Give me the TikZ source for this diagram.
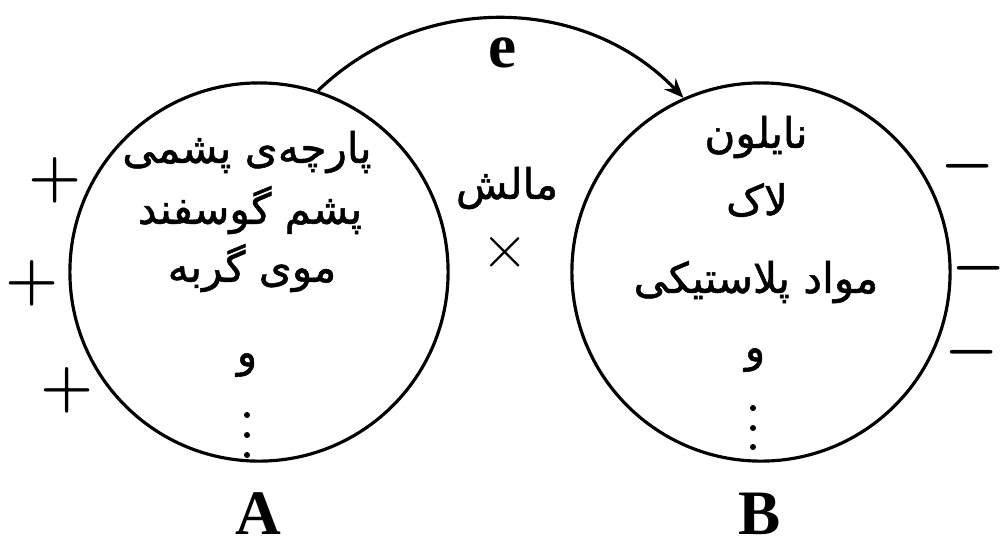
\documentclass[tikz,border=0pt]{standalone}
\usepackage{fontspec}
\setmainfont{Liberation Serif}
\newfontfamily\farsi[Script=Arabic,FakeBold=1.2]{DejaVu Sans}
\usetikzlibrary{arrows.meta}
\TeXXeTstate=1

\begin{document}
\begin{tikzpicture}[x=0.01cm,y=-0.01cm,>={Stealth[length=5.5pt,width=4.5pt]}]
  \tikzstyle{ball}=[draw,circle,line width=0.9pt,minimum size=3.78cm,inner sep=0pt]
  \tikzstyle{fa}=[font=\farsi\fontsize{12}{14}\selectfont,inner sep=0pt]
  \tikzstyle{tag}=[font=\bfseries\fontsize{18}{22}\selectfont,inner sep=0pt]
  \tikzstyle{charge}=[font=\boldmath\fontsize{16}{18}\selectfont,inner sep=0pt]
  \useasboundingbox (0,0) rectangle (1002,544);
  % the two rubbed bodies
  \node[ball] (A) at (259,272) {};
  \node[ball] (B) at (761,272) {};
  \node[tag] (la) at (258,514) {A};
  \node[tag] (lb) at (760,514) {B};
  % materials of A
  \node[fa] (a1) at (247,152) {\beginR پارچه‌ی پشمی\endR};
  \node[fa] (a2) at (250,210) {\beginR پشم گوسفند\endR};
  \node[fa] (a3) at (252,268) {\beginR موی گربه\endR};
  \node[fa] (a4) at (247,365) {\beginR و\endR};
  % materials of B
  \node[fa] (b1) at (756,137) {\beginR نایلون\endR};
  \node[fa] (b2) at (757,200) {\beginR لاک\endR};
  \node[fa] (b3) at (756,282) {\beginR مواد پلاستیکی\endR};
  \node[fa] (b4) at (755,360) {\beginR و\endR};
  \foreach \y in {415,435,455} \fill (247,\y) circle (3);
  \foreach \y in {408,428,447} \fill (753,\y) circle (3);
  % rubbing
  \node[fa] (rub) at (507,188) {\beginR مالش\endR};
  \node[charge,font=\fontsize{18}{20}\selectfont] (x) at (505,252) {$\times$};
  % charges
  \node[charge] (p1) at (55,180) {$+$};
  \node[charge] (p2) at (32,283) {$+$};
  \node[charge] (p3) at (67,390) {$+$};
  \node[charge] (m1) at (968,166) {$-$};
  \node[charge] (m2) at (979,268) {$-$};
  \node[charge] (m3) at (972,352) {$-$};
  % electron transfer
  \draw[->,line width=0.9pt] (A.72) to[bend left=45] node[tag,below=5pt,pos=0.5] (e) {e} (B.114);
\end{tikzpicture}
\end{document}
